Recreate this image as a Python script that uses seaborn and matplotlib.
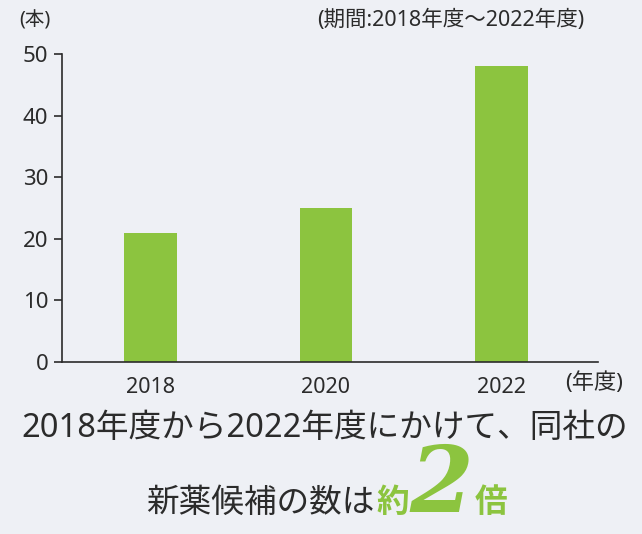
import matplotlib
matplotlib.use("Agg")
import matplotlib.pyplot as plt
from matplotlib.font_manager import FontProperties
import seaborn as sns
import pandas as pd

# data
years = ["2018", "2020", "2022"]
counts = [21, 25, 48]
yticks = [0, 10, 20, 30, 40, 50]

green = "#8cc43f"
bg = "#eef0f5"
ink = "#2b2b2b"

sns.set_theme(style="white")
plt.rcParams["font.family"] = ["Noto Sans", "Noto Sans CJK JP", "DejaVu Sans"]

df = pd.DataFrame({"year": years, "count": counts})

fig = plt.figure(figsize=(6.42, 5.34), dpi=100, facecolor=bg)
ax = fig.add_axes([0.097, 0.322, 0.835, 0.577])
ax.set_facecolor(bg)

sns.barplot(data=df, x="year", y="count", color=green, width=0.3,
            saturation=1, linewidth=0, ax=ax)

ax.set_xlim(-0.5, 2.55)
ax.set_ylim(0, 50)
ax.set_yticks(yticks)
ax.set_xlabel("")
ax.set_ylabel("")
for s in ["top", "right"]:
    ax.spines[s].set_visible(False)
for s in ["left", "bottom"]:
    ax.spines[s].set_color(ink)
    ax.spines[s].set_linewidth(1.2)
ax.tick_params(axis="y", left=True, length=6, width=1.2, color=ink,
               labelsize=16, labelcolor=ink, pad=4)
ax.tick_params(axis="x", bottom=False, labelsize=15.5, labelcolor=ink, pad=5)

fig.text(0.03, 0.962, "(本)", fontsize=14, color=ink, va="center")
fig.text(0.91, 0.962, "(期間:2018年度～2022年度)", fontsize=15.5,
         color=ink, va="center", ha="right")
fig.text(0.97, 0.283, "(年度)", fontsize=16, color=ink, va="center",
         ha="right")

fig.text(0.505, 0.198, "2018年度から2022年度にかけて、同社の", fontsize=23.5,
         color=ink, ha="center", va="center")

# second headline line, pieces chained left to right
base = 0.042
two_font = FontProperties(family="DejaVu Serif", style="italic",
                          weight="bold", size=66)
t1 = fig.text(0.228, base, "新薬候補の数は", fontsize=23.5, color=ink,
              va="baseline")
t2 = fig.text(0, 0, "約", fontsize=23.5, color=green, fontweight="bold",
              va="baseline")
t3 = fig.text(0, 0, "2", fontproperties=two_font, color=green, va="baseline")
t4 = fig.text(0, 0, "倍", fontsize=23.5, color=green, fontweight="bold",
              va="baseline")

fig.canvas.draw()
r = fig.canvas.get_renderer()
x = t1.get_window_extent(r).x1
for t in (t2, t3, t4):
    t.set_position((x / fig.bbox.width + 0.002, base))
    fig.canvas.draw()
    x = t.get_window_extent(r).x1

fig.savefig("out.png", dpi=100, facecolor=bg)
